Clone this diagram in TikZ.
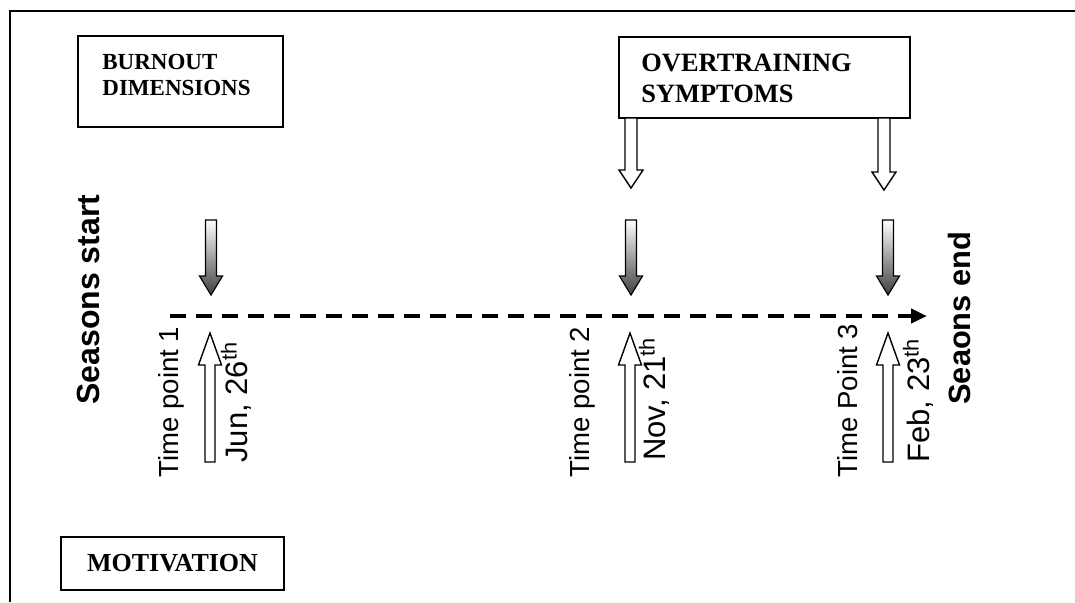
\documentclass[tikz,border=0pt]{standalone}
\usepackage{fontspec}
\setmainfont{Liberation Serif}
\setsansfont{Liberation Sans}
\usetikzlibrary{arrows.meta}
\newcommand{\downgrad}[1]{\shade[top color=white,bottom color=black!75,draw=black,line width=0.6pt] (#1-5.5,220) -- (#1+5.5,220) -- (#1+5.5,276) -- (#1+11.5,276) -- (#1,295) -- (#1-11.5,276) -- (#1-5.5,276) -- cycle;}
\newcommand{\upopen}[1]{\draw[fill=white,line width=0.7pt] (#1-5,462) -- (#1+5,462) -- (#1+5,365) -- (#1+11.5,365) -- (#1,333) -- (#1-11.5,365) -- (#1-5,365) -- cycle;}
\newcommand{\downopen}[3]{\draw[fill=white,line width=0.7pt] (#1-6,118) -- (#1+6,118) -- (#1+6,#2) -- (#1+12,#2) -- (#1,#3) -- (#1-12,#2) -- (#1-6,#2) -- cycle;}
\begin{document}
\begin{tikzpicture}[x=0.5pt,y=-0.5pt,
  boxnode/.style={draw, line width=0.8pt, rectangle, inner sep=0pt},
  boxtext/.style={inner sep=0pt, align=left, anchor=north west, font=\bfseries},
  rottext/.style={inner sep=0pt, rotate=90, anchor=base west, font=\sffamily\fontsize{13.8}{16}\selectfont},
  datetext/.style={inner sep=0pt, rotate=90, anchor=base west, font=\sffamily\fontsize{15.5}{18}\selectfont},
  seasontext/.style={inner sep=0pt, rotate=90, anchor=base west, font=\sffamily\bfseries\fontsize{16}{18}\selectfont}]
\useasboundingbox (0,0) rectangle (1075,602);
% outer frame (top and left only)
\draw[line width=1pt] (10,602) -- (10,11) -- (1075,11);
% boxes
\node[boxnode, minimum width=102.5pt, minimum height=45.5pt] (burnout) at (180.5,81.5) {};
\node[boxtext, font=\bfseries\fontsize{11.5}{13}\selectfont] (burnouttxt) at (102,54) {BURNOUT\\DIMENSIONS};
\node[boxnode, minimum width=145.5pt, minimum height=40.5pt] (overtr) at (764.5,77.5) {};
\node[boxtext, font=\bfseries\fontsize{13.2}{15.5}\selectfont] (overtrtxt) at (641,54) {OVERTRAINING\\SYMPTOMS};
\node[boxnode, minimum width=111.5pt, minimum height=26.5pt, font=\bfseries\fontsize{13}{15}\selectfont] (motiv) at (172.5,563.5) {MOTIVATION};
% open arrows from overtraining box
\downopen{631}{170}{188}
\downopen{884}{172}{190}
% gradient arrows
\downgrad{211}
\downgrad{631}
\downgrad{888}
% timeline
\coordinate (ts) at (170,316);
\coordinate (te) at (927,316);
\draw[line width=2pt, dash pattern=on 8pt off 5pt, -{Triangle[length=8pt,width=7pt]}] (ts) -- (te);
% up open arrows
\upopen{210}
\upopen{630}
\upopen{888}
% texts
\node[seasontext] (sstart) at (99,405) {Seasons start};
\node[seasontext, font=\sffamily\bfseries\fontsize{15.4}{18}\selectfont] (send) at (970,405) {Seaons end};
\node[rottext] (tp1) at (178,478) {Time point 1};
\node[datetext] (d1) at (247,463) {Jun, 26\textsuperscript{th}};
\node[rottext] (tp2) at (589,478) {Time point 2};
\node[datetext] (d2) at (665,461) {Nov, 21\textsuperscript{th}};
\node[rottext] (tp3) at (857,478) {Time Point 3};
\node[datetext] (d3) at (929,463) {Feb, 23\textsuperscript{th}};
\end{tikzpicture}
\end{document}
